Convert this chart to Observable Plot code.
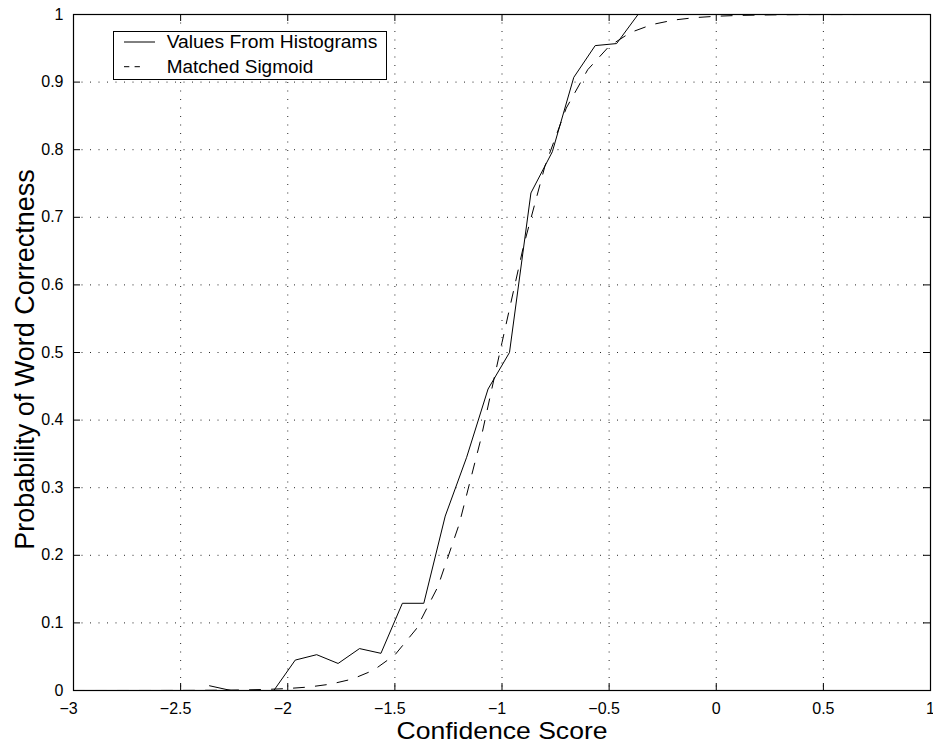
<!DOCTYPE html>
<html>
<head>
<meta charset="utf-8">
<script src="https://cdn.jsdelivr.net/npm/d3@7"></script>
<script src="https://cdn.jsdelivr.net/npm/@observablehq/plot@0.6"></script>
<style>
  html, body { margin: 0; padding: 0; background: #fff; overflow: hidden; }
  #wrap { position: relative; width: 933px; height: 745px; font-family: "Liberation Sans", Arial, Helvetica, sans-serif; }
  #legend { position: absolute; left: 113px; top: 31px; }
</style>
</head>
<body>
<div id="wrap"></div>
<script>
// Histogram-derived probabilities (solid line)
const histX = [-2.365, -2.265, -2.165, -2.065, -1.965, -1.865, -1.765, -1.665, -1.565, -1.465, -1.365,
               -1.265, -1.165, -1.065, -0.965, -0.865, -0.765, -0.665, -0.565, -0.465, -0.365];
const histY = [0.007, 0, 0, 0, 0.045, 0.053, 0.040, 0.062, 0.055, 0.129, 0.129,
               0.258, 0.345, 0.446, 0.500, 0.736, 0.797, 0.907, 0.954, 0.957, 1.0];

// Matched sigmoid (dashed line)
const sigX = [-3.0, -2.9, -2.8, -2.7, -2.6, -2.5, -2.4, -2.3, -2.2, -2.1, -2.0, -1.9, -1.8, -1.7, -1.6,
              -1.5, -1.4, -1.3, -1.2, -1.1, -1.0, -0.9, -0.8, -0.7, -0.6, -0.5, -0.4, -0.3, -0.2, -0.1,
              0.0, 0.1, 0.2, 0.3, 0.4, 0.5, 0.6, 0.7, 0.8, 0.9, 1.0];
const sigY = [0.00001, 0.00001, 0.00003, 0.00005, 0.00008, 0.00015, 0.00027, 0.0005, 0.0009, 0.0016, 0.0029,
              0.0052, 0.0094, 0.0168, 0.0299, 0.0526, 0.0911, 0.1531, 0.2459, 0.3703, 0.5147, 0.6568,
              0.7754, 0.8616, 0.9183, 0.9530, 0.9734, 0.9851, 0.9917, 0.9954, 0.9974, 0.9986, 0.9992,
              0.9996, 0.9998, 0.9999, 0.9999, 1.0, 1.0, 1.0, 1.0];

// Tick values and labels
const xTicks = [-3, -2.5, -2, -1.5, -1, -0.5, 0, 0.5, 1];
const yTicks = [0, 0.1, 0.2, 0.3, 0.4, 0.5, 0.6, 0.7, 0.8, 0.9, 1];
const xTitle = "Confidence Score";
const yTitle = "Probability of Word Correctness";
const seriesNames = ["Values From Histograms", "Matched Sigmoid"];

const hist = histX.map((x, i) => ({x, y: histY[i]}));
const sig = sigX.map((x, i) => ({x, y: sigY[i]}));
const xNeg = xTicks.filter(d => d < 0);
const xNonNeg = xTicks.filter(d => d >= 0);
const fmt = d => (d < 0 ? "\u2212" : "") + String(Math.abs(d));

const W = 933, H = 745, mL = 73, mR = 3, mT = 14, mB = 55;
const fw = W - mL - mR, fh = H - mT - mB, tick = 7;

const chart = Plot.plot({
  width: W, height: H,
  marginLeft: mL, marginRight: mR, marginTop: mT, marginBottom: mB,
  style: {fontFamily: '"Liberation Sans", Arial, Helvetica, sans-serif', fontSize: "16px", color: "#000", background: "#fff"},
  x: {domain: [-3, 1]},
  y: {domain: [0, 1]},
  marks: [
    Plot.gridX(xTicks, {stroke: "#000", strokeOpacity: 0.85, strokeDasharray: "1,7.5"}),
    Plot.gridY(yTicks, {stroke: "#000", strokeOpacity: 0.85, strokeDasharray: "1,7.5"}),
    Plot.line(sig, {x: "x", y: "y", stroke: "#000", strokeWidth: 1, strokeDasharray: "11,11"}),
    Plot.line(hist, {x: "x", y: "y", stroke: "#000", strokeWidth: 1}),
    Plot.tickX(xTicks, {x: d => d, stroke: "#000", insetTop: fh - tick}),
    Plot.tickX(xTicks, {x: d => d, stroke: "#000", insetBottom: fh - tick}),
    Plot.tickY(yTicks, {y: d => d, stroke: "#000", insetRight: fw - tick}),
    Plot.tickY(yTicks, {y: d => d, stroke: "#000", insetLeft: fw - tick}),
    Plot.frame({stroke: "#000", strokeWidth: 1.2}),
    Plot.axisX(xNeg, {anchor: "bottom", tickSize: 0, tickPadding: 12, dx: -5, tickFormat: fmt, label: null, fontSize: 16}),
    Plot.axisX(xNonNeg, {anchor: "bottom", tickSize: 0, tickPadding: 12, tickFormat: fmt, label: null, fontSize: 16}),
    Plot.axisY(yTicks, {anchor: "left", tickSize: 0, tickPadding: 10, tickFormat: fmt, label: null, fontSize: 16}),
    Plot.text([xTitle], {text: d => d, frameAnchor: "bottom", textAnchor: "middle", lineAnchor: "middle", dy: 41, fontSize: 24, fill: "#000"}),
    Plot.text([yTitle], {text: d => d, frameAnchor: "left", textAnchor: "middle", lineAnchor: "middle", rotate: -90, dx: -48.6, dy: 7, fontSize: 27, fill: "#000"})
  ]
});

// stretch the x title to the reference width
chart.querySelectorAll("text").forEach(t => {
  if (t.textContent === xTitle) {
    t.setAttribute("textLength", 211);
    t.setAttribute("lengthAdjust", "spacingAndGlyphs");
  }
});

const wrap = document.getElementById("wrap");
wrap.appendChild(chart);

// Legend (inside the axes, top-left)
const lg = document.createElementNS("http://www.w3.org/2000/svg", "svg");
lg.setAttribute("id", "legend");
lg.setAttribute("width", 276);
lg.setAttribute("height", 50);
lg.innerHTML = `
  <rect x="0.5" y="0.5" width="273" height="48" fill="#fff" stroke="#000" stroke-width="1"/>
  <line x1="11" x2="42" y1="11" y2="11" stroke="#000" stroke-width="1"/>
  <line x1="11" x2="27" y1="35.7" y2="35.7" stroke="#000" stroke-width="1" stroke-dasharray="5.3,5.3"/>
  <text x="53.7" y="17.3" font-size="17.5" textLength="210.6" lengthAdjust="spacingAndGlyphs" fill="#000">${seriesNames[0]}</text>
  <text x="53.7" y="41.7" font-size="17.5" textLength="146.6" lengthAdjust="spacingAndGlyphs" fill="#000">${seriesNames[1]}</text>`;
wrap.appendChild(lg);
</script>
</body>
</html>
